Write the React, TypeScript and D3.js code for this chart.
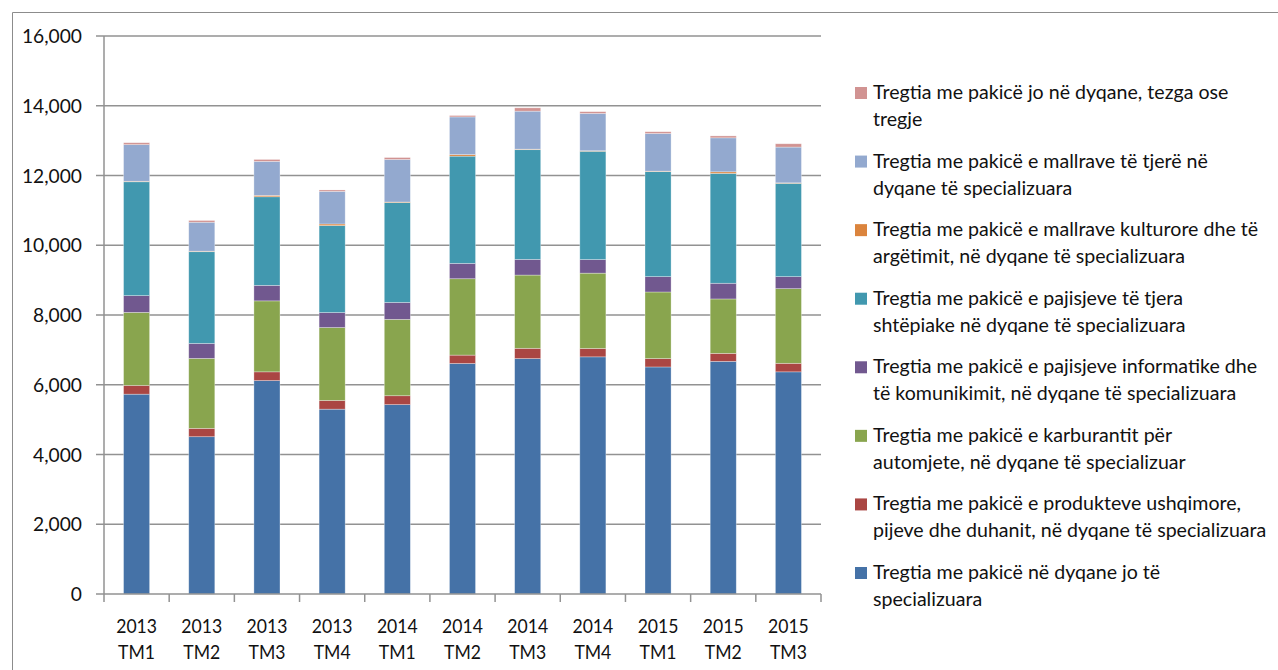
import React, { useEffect, useRef } from "react";
import * as d3 from "d3";

// quarters on the x axis
const categories = [
  ["2013", "TM1"], ["2013", "TM2"], ["2013", "TM3"], ["2013", "TM4"],
  ["2014", "TM1"], ["2014", "TM2"], ["2014", "TM3"], ["2014", "TM4"],
  ["2015", "TM1"], ["2015", "TM2"], ["2015", "TM3"],
];

// series values, bottom of the stack first
const nonSpecialized = [5730, 4510, 6120, 5300, 5430, 6610, 6750, 6800, 6510, 6670, 6370];
const foodDrinks = [250, 240, 250, 250, 255, 240, 295, 240, 240, 230, 245];
const fuel = [2095, 2005, 2035, 2090, 2190, 2190, 2100, 2160, 1910, 1560, 2140];
const infoComm = [480, 430, 445, 430, 485, 440, 450, 390, 440, 450, 345];
const household = [3265, 2630, 2540, 2495, 2865, 3075, 3145, 3105, 3010, 3150, 2675];
const cultural = [15, 15, 40, 45, 15, 45, 15, 15, 15, 45, 15];
const otherGoods = [1050, 830, 975, 935, 1220, 1080, 1090, 1070, 1080, 975, 1025];
const nonStore = [55, 50, 55, 40, 55, 40, 95, 50, 50, 55, 95];

const seriesValues = [nonSpecialized, foodDrinks, fuel, infoComm, household, cultural, otherGoods, nonStore];
const seriesColors = ["#4572A7", "#AA4643", "#89A54E", "#71588F", "#4198AF", "#DB843D", "#93A9CF", "#D19392"];
const seriesLabels = [
  ["Tregtia me pakicë në dyqane jo të", "specializuara"],
  ["Tregtia me pakicë e produkteve ushqimore,", "pijeve dhe duhanit, në dyqane të specializuara"],
  ["Tregtia me pakicë e karburantit për", "automjete, në dyqane të specializuar"],
  ["Tregtia me pakicë e pajisjeve informatike dhe", "të komunikimit, në dyqane të specializuara"],
  ["Tregtia me pakicë e pajisjeve të tjera", "shtëpiake në dyqane të specializuara"],
  ["Tregtia me pakicë e mallrave kulturore dhe të", "argëtimit, në dyqane të specializuara"],
  ["Tregtia me pakicë e mallrave të tjerë në", "dyqane të specializuara"],
  ["Tregtia me pakicë jo në dyqane, tezga ose", "tregje"],
];

const yTicks = [0, 2000, 4000, 6000, 8000, 10000, 12000, 14000, 16000];

function App() {
  const chart = useRef(null);

  useEffect(() => {
    const width = 1278;
    const height = 670;
    const plot = { left: 104, right: 821, top: 36, bottom: 594 };
    const font = "Lato, 'Open Sans', sans-serif";
    // the source text is narrow, squeeze it a bit
    const squeezeX = 0.88;
    const squeezeY = 0.96;
    const squeezeLegend = 0.98;

    const svg = d3.select(chart.current)
      .attr("width", width)
      .attr("height", height);

    // outer chart border (top and left edges show)
    svg.append("path")
      .attr("d", `M12.5,${height} V12.5 H${width}`)
      .attr("fill", "none")
      .attr("stroke", "#8c8c8c")
      .attr("stroke-width", 1);

    const keys = categories.map(c => c.join(" "));
    const x = d3.scaleBand().domain(keys).range([plot.left, plot.right]).paddingInner(0.6).paddingOuter(0.3);
    const xTickScale = d3.scaleBand().domain(keys).range([plot.left, plot.right]);
    const y = d3.scaleLinear().domain([0, 16000]).range([plot.bottom, plot.top]);

    const rows = keys.map((k, i) => {
      const row = { key: k };
      seriesValues.forEach((s, j) => row["s" + j] = s[i]);
      return row;
    });
    const stacked = d3.stack().keys(seriesValues.map((s, j) => "s" + j))(rows);

    // gridlines
    svg.selectAll(".grid")
      .data(yTicks.filter(t => t > 0))
      .enter()
      .append("line")
      .attr("class", "grid")
      .attr("x1", plot.left - 8)
      .attr("x2", plot.right)
      .attr("y1", d => y(d))
      .attr("y2", d => y(d))
      .attr("stroke", "#929292")
      .attr("stroke-width", 1.5);

    // bars
    stacked.forEach((layer, j) => {
      svg.append("g")
        .selectAll("rect")
        .data(layer)
        .enter()
        .append("rect")
        .attr("x", d => x(d.data.key))
        .attr("width", x.bandwidth())
        .attr("y", d => y(d[1]))
        .attr("height", d => y(d[0]) - y(d[1]))
        .attr("fill", seriesColors[j])
        .attr("stroke", "rgba(255,255,255,0.45)")
        .attr("stroke-width", 0.7);
    });

    // axis lines
    svg.append("line")
      .attr("x1", plot.left).attr("x2", plot.left)
      .attr("y1", plot.top).attr("y2", plot.bottom)
      .attr("stroke", "#929292").attr("stroke-width", 1.5);
    svg.append("line")
      .attr("x1", plot.left - 8).attr("x2", plot.right)
      .attr("y1", plot.bottom).attr("y2", plot.bottom)
      .attr("stroke", "#929292").attr("stroke-width", 1.5);

    const fmt = d3.format(",");
    svg.selectAll(".ylab")
      .data(yTicks)
      .enter()
      .append("g")
      .attr("class", "ylab")
      .attr("transform", d => `translate(82,${y(d) + 7}) scale(${squeezeY},1)`)
      .append("text")
      .attr("text-anchor", "end")
      .attr("font-family", font)
      .attr("font-size", 20)
      .attr("fill", "#111")
      .text(d => fmt(d));

    // x ticks at band edges
    const edges = keys.map(k => xTickScale(k)).concat([plot.right]);
    svg.selectAll(".xtick")
      .data(edges)
      .enter()
      .append("line")
      .attr("x1", d => d).attr("x2", d => d)
      .attr("y1", plot.bottom).attr("y2", plot.bottom + 8)
      .attr("stroke", "#929292").attr("stroke-width", 1.5);

    // x labels, two lines each
    const xl = svg.selectAll(".xlab")
      .data(categories)
      .enter()
      .append("g")
      .attr("class", "xlab")
      .attr("transform", (d, i) => `translate(${xTickScale(keys[i]) + xTickScale.bandwidth() / 2},0) scale(${squeezeX},1)`);
    xl.append("text")
      .attr("y", 633)
      .attr("text-anchor", "middle")
      .attr("font-family", font).attr("font-size", 20).attr("fill", "#111")
      .text(d => d[0]);
    xl.append("text")
      .attr("y", 659)
      .attr("text-anchor", "middle")
      .attr("font-family", font).attr("font-size", 20).attr("fill", "#111")
      .text(d => d[1]);

    // legend, top entry = top of stack
    const order = d3.range(seriesValues.length).reverse();
    const legendY = d3.scalePoint().domain(order).range([99, 579]);
    const items = svg.selectAll(".legend")
      .data(order)
      .enter()
      .append("g")
      .attr("class", "legend")
      .attr("transform", d => `translate(855,${legendY(d)})`);
    items.append("rect")
      .attr("x", 0).attr("y", -12)
      .attr("width", 12).attr("height", 12)
      .attr("fill", d => seriesColors[d]);
    const lt = items.append("g")
      .attr("transform", `translate(18,0) scale(${squeezeLegend},1)`)
      .append("text")
      .attr("font-family", font).attr("font-size", 20).attr("fill", "#111");
    lt.selectAll("tspan")
      .data(d => seriesLabels[d])
      .enter()
      .append("tspan")
      .attr("x", 0)
      .attr("y", (d, i) => i * 27)
      .text(d => d);

    return () => {
      svg.selectAll("*").remove();
    };
  }, []);

  return (
    <svg ref={chart} style={{ position: "absolute", left: 0, top: 0, background: "#fff" }}></svg>
  );
}

export default App;
